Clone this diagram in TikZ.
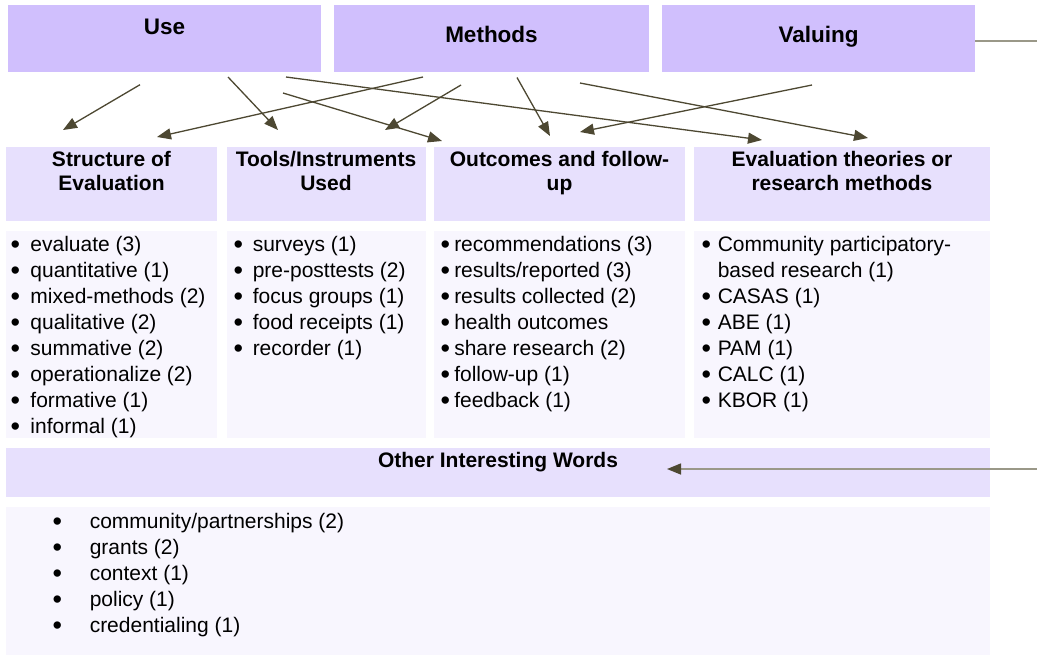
\documentclass[tikz,border=0pt]{standalone}
\usepackage{fontspec}
\setmainfont{Liberation Sans}
\usetikzlibrary{arrows.meta}
\definecolor{topc}{HTML}{D0BFFD}
\definecolor{headc}{HTML}{E7E0FD}
\definecolor{listc}{HTML}{F8F6FE}
\definecolor{arrc}{HTML}{4D4832}
\definecolor{grayl}{HTML}{9A9888}
\newcommand\bulletlist[2]{\begin{tabular}[t]{@{}l@{\hspace{#1}}l@{}}#2\end{tabular}}
\newcommand\hdtab[1]{\begin{tabular}[t]{@{}c@{}}#1\end{tabular}}
\newcommand\bul{\raisebox{-2.2pt}{\fontsize{27}{26}\selectfont\textbullet}}
\begin{document}
\begin{tikzpicture}[x=1pt,y=-1pt,
  box/.style={anchor=north west, inner sep=0pt, outer sep=0pt, draw=none},
  topbox/.style={box, fill=topc},
  headbox/.style={box, fill=headc},
  listbox/.style={box, fill=listc},
  toptext/.style={anchor=base, inner sep=0pt, font=\fontsize{22.5}{27}\selectfont\bfseries},
  headtext/.style={anchor=base, inner sep=0pt, font=\fontsize{21}{24}\selectfont\bfseries},
  listtext/.style={anchor=base west, inner sep=0pt, font=\fontsize{21}{26}\selectfont},
  conn/.style={draw=arrc, line width=1.3pt, -{Triangle[length=14pt,width=11pt]}},
  grayline/.style={draw=grayl, line width=1.5pt},
]
\useasboundingbox (0,0) rectangle (1037,657);
\fill[white] (0,0) rectangle (1037,657);

% top boxes
\node[topbox, minimum width=313pt, minimum height=67pt] (use) at (8,5) {};
\node[topbox, minimum width=315pt, minimum height=67pt] (methods) at (334,5) {};
\node[topbox, minimum width=313pt, minimum height=67pt] (valuing) at (662,5) {};
\node[toptext] (useT) at (164.5,34) {Use};
\node[toptext] (methodsT) at (491.5,42.5) {Methods};
\node[toptext] (valuingT) at (818.5,42.5) {Valuing};

% header boxes
\node[headbox, minimum width=211pt, minimum height=74pt] (struct) at (6,147) {};
\node[headbox, minimum width=199pt, minimum height=74pt] (tools) at (227,147) {};
\node[headbox, minimum width=251pt, minimum height=74pt] (outc) at (434,147) {};
\node[headbox, minimum width=296pt, minimum height=74pt] (theo) at (694,147) {};
\node[headtext] (structT) at (111.5,166.7) {\hdtab{Structure of\\Evaluation}};
\node[headtext] (toolsT) at (326,166.7) {\hdtab{Tools/Instruments\\Used}};
\node[headtext] (outcT) at (559.5,166.7) {\hdtab{Outcomes and follow-\\up}};
\node[headtext] (theoT) at (842,166.7) {\hdtab{Evaluation theories or\\research methods}};

% list boxes
\node[listbox, minimum width=211pt, minimum height=207pt] (structL) at (6,231) {};
\node[listbox, minimum width=199pt, minimum height=207pt] (toolsL) at (227,231) {};
\node[listbox, minimum width=251pt, minimum height=207pt] (outcL) at (434,231) {};
\node[listbox, minimum width=296pt, minimum height=207pt] (theoL) at (694,231) {};

\node[listtext] (structI) at (10.3,251) {\bulletlist{10.5pt}{%
\bul & evaluate (3)\\
\bul & quantitative (1)\\
\bul & mixed-methods (2)\\
\bul & qualitative (2)\\
\bul & summative (2)\\
\bul & operationalize (2)\\
\bul & formative (1)\\
\bul & informal (1)}};
\node[listtext] (toolsI) at (233.3,251) {\bulletlist{9.8pt}{%
\bul & surveys (1)\\
\bul & pre-posttests (2)\\
\bul & focus groups (1)\\
\bul & food receipts (1)\\
\bul & recorder (1)}};
\node[listtext] (outcI) at (440.3,251) {\bulletlist{4.3pt}{%
\bul & recommendations (3)\\
\bul & results/reported (3)\\
\bul & results collected (2)\\
\bul & health outcomes\\
\bul & share research (2)\\
\bul & follow-up (1)\\
\bul & feedback (1)}};
\node[listtext] (theoI) at (701.3,251) {\bulletlist{6.8pt}{%
\bul & Community participatory-\\
 & based research (1)\\
\bul & CASAS (1)\\
\bul & ABE (1)\\
\bul & PAM (1)\\
\bul & CALC (1)\\
\bul & KBOR (1)}};

% other interesting words
\node[headbox, minimum width=984pt, minimum height=49pt] (other) at (6,447.5) {};
\node[headtext] (otherT) at (498,467) {Other Interesting Words};
\node[listbox, minimum width=984pt, minimum height=148pt] (otherL) at (6,507) {};
\node[listtext] (otherI) at (52.3,528.5) {\bulletlist{27.8pt}{%
\bul & community/partnerships (2)\\
\bul & grants (2)\\
\bul & context (1)\\
\bul & policy (1)\\
\bul & credentialing (1)}};

% connector end points
\coordinate (a1s) at (140,84.7);  \coordinate (a1e) at (63,130);
\coordinate (a2s) at (228,77);    \coordinate (a2e) at (278,130);
\coordinate (a3s) at (423,77);    \coordinate (a3e) at (157,137);
\coordinate (a4s) at (286,77);    \coordinate (a4e) at (762,140);
\coordinate (a5s) at (283,93);    \coordinate (a5e) at (442,141);
\coordinate (a6s) at (461,85);    \coordinate (a6e) at (385,130);
\coordinate (a7s) at (517,77.5);  \coordinate (a7e) at (550,136);
\coordinate (a8s) at (580,83);    \coordinate (a8e) at (868,138);
\coordinate (a9s) at (812,85);    \coordinate (a9e) at (580,132);
\coordinate (vre) at (1037,41);
\coordinate (ors) at (1037,469);  \coordinate (ore) at (667,469);

\foreach \i in {1,...,9} {\draw[conn] (a\i s) -- (a\i e);}
\draw[grayline] (valuing.east |- vre) -- (vre);
\draw[grayline, -{Triangle[length=14pt,width=11pt,color=arrc]}] (ors) -- (ore);
\end{tikzpicture}
\end{document}
